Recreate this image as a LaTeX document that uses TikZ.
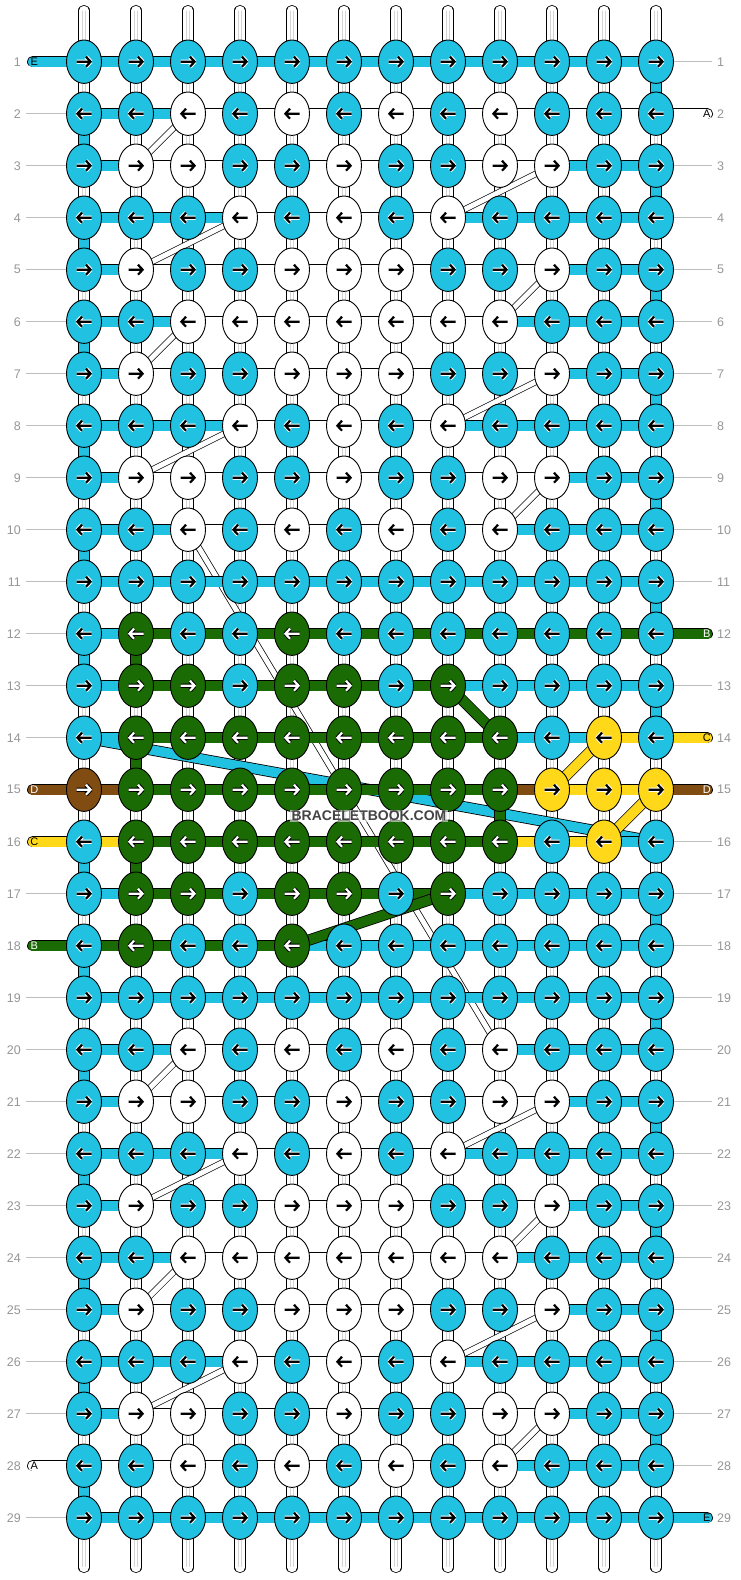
\documentclass[tikz,border=0pt]{standalone}
\usepackage{fontspec}
\setmainfont{Liberation Sans}
\usetikzlibrary{shapes.geometric}
\definecolor{kc}{RGB}{33,193,225}
\definecolor{kw}{RGB}{255,255,255}
\definecolor{kg}{RGB}{27,107,5}
\definecolor{kn}{RGB}{128,76,18}
\definecolor{ky}{RGB}{255,216,26}
\definecolor{labgray}{RGB}{150,150,150}
\definecolor{linegray}{RGB}{190,190,190}
\definecolor{stripegray}{RGB}{212,212,212}
\definecolor{wmark}{RGB}{68,68,68}
\colorlet{Ac}{black}\colorlet{Hc}{white}
\colorlet{Aw}{black}\colorlet{Hw}{white}
\colorlet{Ay}{black}\colorlet{Hy}{white}
\colorlet{Ag}{white}\colorlet{Hg}{black}
\colorlet{An}{white}\colorlet{Hn}{black}
\pgfdeclarelayer{bgl}
\pgfdeclarelayer{strandl}
\pgfdeclarelayer{diagl}
\pgfdeclarelayer{barl}
\pgfdeclarelayer{thickl}
\pgfdeclarelayer{topl}
\pgfsetlayers{bgl,strandl,diagl,barl,thickl,main,topl}
\tikzset{
  knot/.style={ellipse, draw=black, line width=0.9pt, minimum width=35pt, minimum height=43.4pt, inner sep=0pt},
  band/.style={draw=black, line width=0.8pt, double distance=9.6pt},
  wband/.style={draw=black, line width=0.7pt, double=white, double distance=5pt},
  strand/.style={draw=black, line width=0.8pt, double=white, double distance=9.6pt, line cap=round},
  stub/.style={band, line cap=round},
  arr/.style={line width=2.2pt, line join=miter, line cap=butt},
  halo/.style={line width=4.2pt, line join=round, line cap=butt},
  rowlab/.style={text=labgray, font=\fontsize{12.5}{14}\selectfont, inner sep=0pt},
  stublab/.style={font=\fontsize{11}{13}\selectfont, inner sep=0pt},
  gline/.style={draw=linegray, line width=1pt},
}
\begin{document}
\begin{tikzpicture}[x=1pt,y=-1pt]
\useasboundingbox (0,0) rectangle (740,1580);
\begin{pgfonlayer}{bgl}
\fill[white] (0,0) rectangle (740,1580);
\end{pgfonlayer}
% knots
\foreach \r/\ks in {
1/{c,c,c,c,c,c,c,c,c,c,c,c},
2/{c,c,w,c,w,c,w,c,w,c,c,c},
3/{c,w,w,c,c,w,c,c,w,w,c,c},
4/{c,c,c,w,c,w,c,w,c,c,c,c},
5/{c,w,c,c,w,w,w,c,c,w,c,c},
6/{c,c,w,w,w,w,w,w,w,c,c,c},
7/{c,w,c,c,w,w,w,c,c,w,c,c},
8/{c,c,c,w,c,w,c,w,c,c,c,c},
9/{c,w,w,c,c,w,c,c,w,w,c,c},
10/{c,c,w,c,w,c,w,c,w,c,c,c},
11/{c,c,c,c,c,c,c,c,c,c,c,c},
12/{c,g,c,c,g,c,c,c,c,c,c,c},
13/{c,g,g,c,g,g,c,g,c,c,c,c},
14/{c,g,g,g,g,g,g,g,g,c,y,c},
15/{n,g,g,g,g,g,g,g,g,y,y,y},
16/{c,g,g,g,g,g,g,g,g,c,y,c},
17/{c,g,g,c,g,g,c,g,c,c,c,c},
18/{c,g,c,c,g,c,c,c,c,c,c,c},
19/{c,c,c,c,c,c,c,c,c,c,c,c},
20/{c,c,w,c,w,c,w,c,w,c,c,c},
21/{c,w,w,c,c,w,c,c,w,w,c,c},
22/{c,c,c,w,c,w,c,w,c,c,c,c},
23/{c,w,c,c,w,w,w,c,c,w,c,c},
24/{c,c,w,w,w,w,w,w,w,c,c,c},
25/{c,w,c,c,w,w,w,c,c,w,c,c},
26/{c,c,c,w,c,w,c,w,c,c,c,c},
27/{c,w,w,c,c,w,c,c,w,w,c,c},
28/{c,c,w,c,w,c,w,c,w,c,c,c},
29/{c,c,c,c,c,c,c,c,c,c,c,c}}{
  \pgfmathsetmacro{\y}{61.7+(\r-1)*52}
  \pgfmathsetmacro{\d}{1-2*mod(\r+1,2)}
  \foreach \k [count=\c] in \ks {
    \pgfmathsetmacro{\x}{84+(\c-1)*52}
    \node[knot, fill=k\k] (k-\r-\c) at (\x,\y) {};
    \draw[halo, H\k] ({\x-7.5*\d},\y) -- ({\x+6.3*\d},\y) ({\x+2*\d},{\y-5}) -- ({\x+6.6*\d},\y) -- ({\x+2*\d},{\y+5});
    \draw[arr, A\k] ({\x-7.5*\d},\y) -- ({\x+6.3*\d},\y) ({\x+2*\d},{\y-5}) -- ({\x+6.6*\d},\y) -- ({\x+2*\d},{\y+5});
  }
  % row labels
  \node[rowlab, anchor=east] (ll-\r) at (21,\y) {\r};
  \node[rowlab, anchor=west] (rl-\r) at (717,\y) {\r};
}
% strands
\begin{pgfonlayer}{strandl}
\foreach \c in {1,...,12}{
  \pgfmathsetmacro{\x}{84+(\c-1)*52}
  \coordinate (st-\c) at (\x,10.6);
  \coordinate (sb-\c) at (\x,1567.4);
  \draw[strand] (st-\c) -- (sb-\c);
  \draw[stripegray, line width=0.7pt] ([xshift=-1.5pt]st-\c) -- ([xshift=-1.5pt]sb-\c);
  \draw[stripegray, line width=0.7pt] ([xshift=1.5pt]st-\c) -- ([xshift=1.5pt]sb-\c);
}
% gray guide lines
\foreach \r in {2,...,14,17,19,20,21,22,23,24,25,26,27,29}{
  \draw[gline] ([xshift=5pt]ll-\r.east) -- (k-\r-1.center);
}
\foreach \r in {1,3,4,5,6,7,8,9,10,11,13,16,17,18,19,20,21,22,23,24,25,26,27,28}{
  \draw[gline] (k-\r-12.center) -- ([xshift=-5pt]rl-\r.west);
}
\end{pgfonlayer}
% white diagonals and long cyan band
\begin{pgfonlayer}{diagl}
\foreach \ra/\ca/\rb/\cb in {2/3/3/2, 3/10/4/8, 4/4/5/2, 5/10/6/9, 6/3/7/2, 7/10/8/8, 8/4/9/2, 9/10/10/9, 10/3/20/9, 20/3/21/2, 21/10/22/8, 22/4/23/2, 23/10/24/9, 24/3/25/2, 25/10/26/8, 26/4/27/2, 27/10/28/9}{
  \draw[wband] (k-\ra-\ca.center) -- (k-\rb-\cb.center);
}
\draw[band, double=kc] (k-14-1.center) -- (k-16-12.center);
\end{pgfonlayer}
% horizontal bars, vertical coloured segments, stubs
\begin{pgfonlayer}{barl}
\foreach \r/\bs in {
1/{c,c,c,c,c,c,c,c,c,c,c},
2/{c,c,w,w,w,w,w,w,w,w,w},
3/{c,w,w,w,w,w,w,w,w,c,c},
4/{c,c,c,w,w,w,w,c,c,c,c},
5/{c,w,w,w,w,w,w,w,w,c,c},
6/{c,c,w,w,w,w,w,w,c,c,c},
7/{c,w,w,w,w,w,w,w,w,c,c},
8/{c,c,c,w,w,w,w,c,c,c,c},
9/{c,w,w,w,w,w,w,w,w,c,c},
10/{c,c,w,w,w,w,w,w,c,c,c},
11/{c,c,c,c,c,c,c,c,c,c,c},
12/{c,g,g,g,g,g,g,g,g,g,g},
13/{c,g,g,g,g,g,g,c,c,c,c},
14/{c,g,g,g,g,g,g,g,c,c,y},
15/{n,g,g,g,g,g,g,g,n,y,y},
16/{y,g,g,g,g,g,g,g,y,y,c},
17/{c,g,g,g,g,g,g,c,c,c,c},
18/{g,g,g,g,c,c,c,c,c,c,c},
19/{c,c,c,c,c,c,c,c,c,c,c},
20/{c,c,w,w,w,w,w,w,c,c,c},
21/{c,w,w,w,w,w,w,w,w,c,c},
22/{c,c,c,w,w,w,w,c,c,c,c},
23/{c,w,w,w,w,w,w,w,w,c,c},
24/{c,c,w,w,w,w,w,w,c,c,c},
25/{c,w,w,w,w,w,w,w,w,c,c},
26/{c,c,c,w,w,w,w,c,c,c,c},
27/{c,w,w,w,w,w,w,w,w,c,c},
28/{w,w,w,w,w,w,w,w,c,c,c},
29/{c,c,c,c,c,c,c,c,c,c,c}}{
  \foreach \b [count=\c] in \bs {
    \pgfmathtruncatemacro{\cn}{\c+1}
    \draw[band, double=k\b] (k-\r-\c.center) -- (k-\r-\cn.center);
  }
}
\foreach \r/\c/\col in {1/12/c,3/12/c,5/12/c,7/12/c,9/12/c,11/12/c,13/12/c,17/12/c,19/12/c,21/12/c,23/12/c,25/12/c,27/12/c,
  2/1/c,4/1/c,6/1/c,8/1/c,10/1/c,12/1/c,16/1/c,18/1/c,20/1/c,22/1/c,24/1/c,26/1/c,28/1/c,
  12/2/g,14/2/g,16/2/g,15/9/g}{
  \pgfmathtruncatemacro{\rn}{\r+1}
  \draw[band, double=k\col] (k-\r-\c.center) -- (k-\rn-\c.center);
}
% left stubs
\foreach \r/\col/\t/\tc in {1/c/E/black, 15/n/D/white, 16/y/C/black, 18/g/B/white, 28/w/A/black}{
  \path (k-\r-1.center) ++(-51.4,0) coordinate (sl-\r);
  \draw[stub, double=k\col] (sl-\r) -- (k-\r-1.center);
  \node[stublab, text=\tc] (slt-\r) at ([xshift=1.8pt]sl-\r) {\t};
}
% right stubs
\foreach \r/\col/\t/\tc in {2/w/A/black, 12/g/B/white, 14/y/C/black, 15/n/D/white, 29/c/E/black}{
  \path (k-\r-12.center) ++(51.4,0) coordinate (sr-\r);
  \draw[stub, double=k\col] (k-\r-12.center) -- (sr-\r);
  \node[stublab, text=\tc] (srt-\r) at ([xshift=-0.5pt]sr-\r) {\t};
}
\end{pgfonlayer}
% thick coloured diagonals
\begin{pgfonlayer}{thickl}
\draw[band, double=kg] (k-13-8.center) -- (k-14-9.center);
\draw[band, double=kg] (k-18-5.center) -- (k-17-8.center);
\draw[band, double=ky] (k-14-11.center) -- (k-15-10.center);
\draw[band, double=ky] (k-16-11.center) -- (k-15-12.center);
\end{pgfonlayer}
% watermark
\begin{pgfonlayer}{topl}
\node[font=\fontsize{14}{16}\selectfont\bfseries, text=wmark, fill=white, fill opacity=0.55, text opacity=1, inner sep=1.2pt] (wm) at (369,816) {BRACELETBOOK.COM};
\end{pgfonlayer}
\end{tikzpicture}
\end{document}
